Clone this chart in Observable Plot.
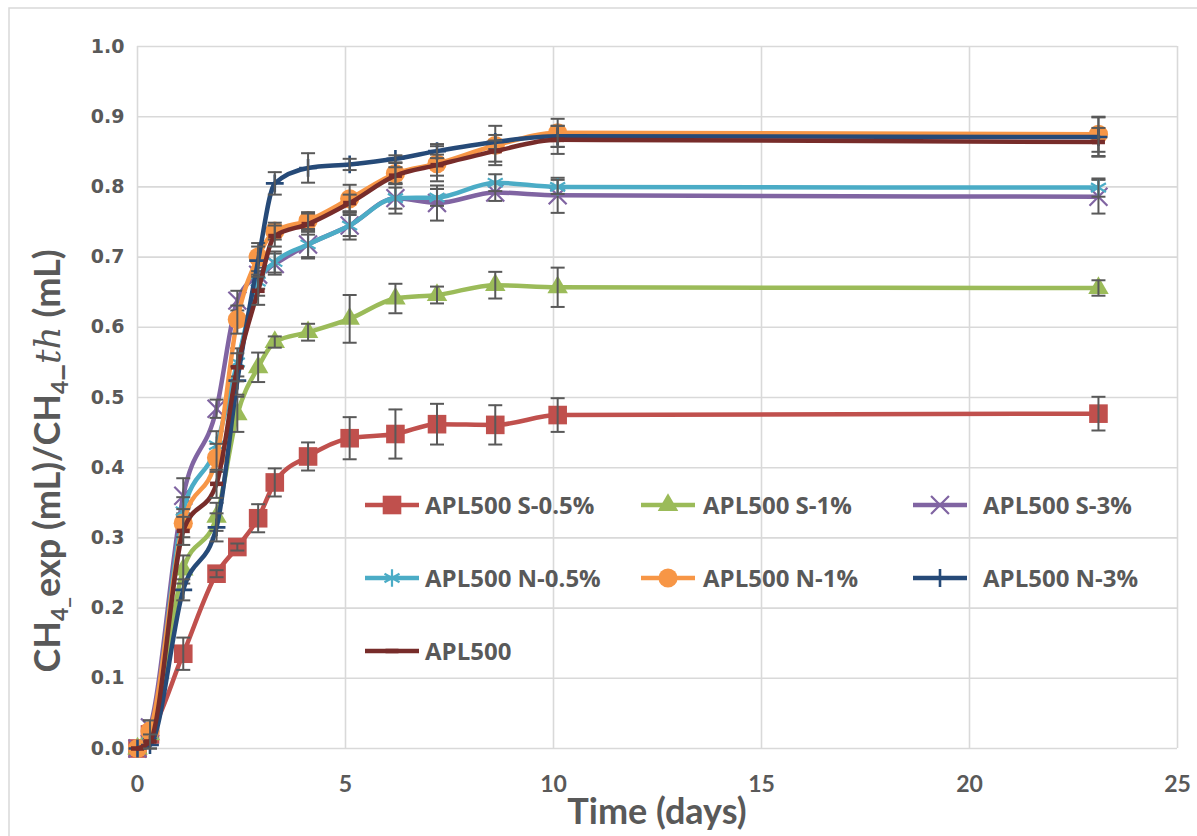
<!DOCTYPE html>
<html><head><meta charset="utf-8">
<script src="https://cdn.jsdelivr.net/npm/d3@7"></script>
<script src="https://cdn.jsdelivr.net/npm/@observablehq/plot@0.6"></script>
<style>
html,body{margin:0;padding:0;background:#fff;}
#chart{position:relative;width:1197px;height:836px;overflow:hidden;}
</style></head><body><div id="chart"></div>
<script>
// ---- data ----
const times = [0, 0.3, 1.1, 1.9, 2.4, 2.9, 3.3, 4.1, 5.1, 6.2, 7.2, 8.6, 10.1, 23.1];
const seriesNames = ["APL500 S-0.5%", "APL500 S-1%", "APL500 S-3%", "APL500 N-0.5%", "APL500 N-1%", "APL500 N-3%", "APL500"];
const valS05 = [0, 0.020, 0.135, 0.249, 0.287, 0.328, 0.379, 0.416, 0.442, 0.448, 0.462, 0.461, 0.475, 0.477];
const valS1  = [0, 0.020, 0.255, 0.330, 0.476, 0.543, 0.579, 0.593, 0.612, 0.641, 0.646, 0.660, 0.657, 0.656];
const valS3  = [0, 0.030, 0.360, 0.484, 0.638, 0.675, 0.690, 0.718, 0.745, 0.784, 0.777, 0.792, 0.788, 0.786];
const valN05 = [0, 0.020, 0.338, 0.432, 0.550, 0.665, 0.693, 0.718, 0.745, 0.784, 0.785, 0.806, 0.800, 0.799];
const valN1  = [0, 0.025, 0.321, 0.414, 0.611, 0.700, 0.737, 0.752, 0.783, 0.819, 0.833, 0.859, 0.877, 0.875];
const valN3  = [0, 0.005, 0.226, 0.315, 0.524, 0.695, 0.805, 0.827, 0.832, 0.840, 0.851, 0.864, 0.872, 0.871];
const valAPL = [0, 0.010, 0.310, 0.377, 0.543, 0.652, 0.730, 0.747, 0.777, 0.816, 0.831, 0.851, 0.867, 0.864];
const errS05 = [0, 0.005, 0.023, 0.005, 0.005, 0.020, 0.020, 0.020, 0.030, 0.035, 0.029, 0.028, 0.024, 0.024];
const errS1  = [0, 0.005, 0.020, 0.020, 0.025, 0.021, 0.008, 0.012, 0.034, 0.021, 0.012, 0.019, 0.028, 0.011];
const errS3  = [0, 0.010, 0.025, 0.013, 0.014, 0.020, 0.015, 0.020, 0.020, 0.022, 0.025, 0.012, 0.025, 0.024];
const errN05 = [0, 0.005, 0.020, 0.020, 0.020, 0.020, 0.015, 0.018, 0.015, 0.015, 0.012, 0.012, 0.010, 0.013];
const errN1  = [0, 0.015, 0.020, 0.020, 0.020, 0.020, 0.012, 0.012, 0.020, 0.015, 0.025, 0.028, 0.020, 0.025];
const errN3  = [0, 0.005, 0.015, 0.020, 0.020, 0.020, 0.016, 0.021, 0.008, 0.005, 0.010, 0.010, 0.015, 0.028];
const errAPL = [0, 0.010, 0.020, 0.020, 0.020, 0.020, 0.015, 0.015, 0.012, 0.012, 0.015, 0.015, 0.020, 0.020];
const xTicks = [0, 5, 10, 15, 20, 25];
const yTicks = [0, 0.1, 0.2, 0.3, 0.4, 0.5, 0.6, 0.7, 0.8, 0.9, 1.0];
const seriesColors = ["#C0504D", "#9BBB59", "#8064A2", "#4BACC6", "#F79646", "#264A78", "#772C2A"];

// ---- symbols ----
const dashSymbol = {draw(ctx, size){ const r = Math.sqrt(size/Math.PI); ctx.moveTo(-r,-r*0.35); ctx.lineTo(r,-r*0.35); ctx.lineTo(r,r*0.35); ctx.lineTo(-r,r*0.35); ctx.closePath(); }};
const capSymbol = {draw(ctx, size){ const r = Math.sqrt(size/Math.PI); ctx.moveTo(-r,0); ctx.lineTo(r,0); }};
const markerSpecs = [
  {symbol: "square",   d3sym: d3.symbolSquare,   r: 10.5, filled: true},
  {symbol: "triangle", d3sym: d3.symbolTriangle, r: 7.6, filled: true},
  {symbol: "times",    d3sym: d3.symbolTimes,    r: 8.2, filled: false, sw: 2.2},
  {symbol: "asterisk", d3sym: d3.symbolAsterisk, r: 8.2, filled: false, sw: 2.2},
  {symbol: "circle",   d3sym: d3.symbolCircle,   r: 9.6, filled: true},
  {symbol: "plus",     d3sym: d3.symbolPlus,     r: 5.8, filled: false, sw: 2.6},
  {symbol: dashSymbol, d3sym: dashSymbol,        r: 6.5, filled: true}
];

const allValues = [valS05, valS1, valS3, valN05, valN1, valN3, valAPL];
const allErrors = [errS05, errS1, errS3, errN05, errN1, errN3, errAPL];
const data = seriesNames.flatMap((name, i) => times.map((t, j) => ({series: name, idx: i, t, v: allValues[i][j], e: allErrors[i][j]})));

const marks = [
  Plot.gridX({ticks: xTicks, stroke: "#d9d9d9", strokeOpacity: 1, strokeWidth: 1.6}),
  Plot.gridY({ticks: yTicks, stroke: "#d9d9d9", strokeOpacity: 1, strokeWidth: 1.6}),
  Plot.axisY({ticks: yTicks, tickSize: 0, tickPadding: 13, tickFormat: d3.format(".1f"), label: null,
    fontFamily: "DejaVu Sans", fontWeight: "bold", fontSize: 19}),
  Plot.axisX({ticks: xTicks, tickSize: 0, tickPadding: 27, tickFormat: d3.format("d"), label: null,
    fontFamily: "Lato", fontWeight: "bold", fontSize: 23})
];
seriesNames.forEach((name, i) => {
  const sub = data.filter(d => d.idx === i);
  const spec = markerSpecs[i];
  const col = seriesColors[i];
  marks.push(Plot.line(sub, {x: "t", y: "v", stroke: col, strokeWidth: 4.5, curve: "monotone-x"}));
  marks.push(Plot.dot(sub, spec.filled
    ? {x: "t", y: "v", symbol: spec.symbol, r: spec.r, fill: col, stroke: "none"}
    : {x: "t", y: "v", symbol: spec.symbol, r: spec.r, fill: "none", stroke: col, strokeWidth: spec.sw}));
  const eb = sub.filter(d => d.e > 0);
  marks.push(Plot.ruleX(eb, {x: "t", y1: d => d.v - d.e, y2: d => d.v + d.e, stroke: "#595959", strokeWidth: 2}));
  marks.push(Plot.dot(eb, {x: "t", y: d => d.v + d.e, symbol: capSymbol, r: 7, stroke: "#595959", strokeWidth: 2}));
  marks.push(Plot.dot(eb, {x: "t", y: d => d.v - d.e, symbol: capSymbol, r: 7, stroke: "#595959", strokeWidth: 2}));
});

const chart = Plot.plot({
  width: 1197, height: 836,
  marginLeft: 137, marginRight: 20, marginTop: 46, marginBottom: 88,
  x: {domain: [0, 25]},
  y: {domain: [0, 1]},
  style: {background: "#fff", color: "#595959", fontFamily: "Lato"},
  marks
});
document.getElementById("chart").appendChild(chart);

const svg = d3.select(chart);
// outer chart border
svg.insert("rect", ":first-child").attr("x", 9).attr("y", 8).attr("width", 1400).attr("height", 1000)
  .attr("fill", "none").attr("stroke", "#d9d9d9").attr("stroke-width", 1.5);

// x axis title
svg.append("text").attr("x", 657).attr("y", 824).attr("text-anchor", "middle")
  .attr("font-family", "Lato").attr("font-weight", "bold").attr("font-size", 36).attr("fill", "#595959")
  .text("Time (days)");

// y axis title
const yt = svg.append("text").attr("transform", "translate(60,461) rotate(-90)").attr("text-anchor", "middle")
  .attr("font-family", "Lato").attr("font-weight", "bold").attr("font-size", 36).attr("fill", "#595959");
yt.append("tspan").text("CH");
yt.append("tspan").attr("font-size", 23).attr("dy", 8).text("4_");
yt.append("tspan").attr("dy", -8).text("exp (mL)/CH");
yt.append("tspan").attr("font-size", 23).attr("dy", 8).text("4");
yt.append("tspan").attr("dy", -8).text("_");
yt.append("tspan").attr("font-family", "DejaVu Serif").attr("font-style", "italic").attr("font-weight", "normal").text("th");
yt.append("tspan").text(" (mL)");

// legend
const legCenters = [392, 668, 940];
const legTextX = [425, 703, 983];
const legRows = [505, 578, 651];
const lg = svg.append("g");
seriesNames.forEach((name, i) => {
  const row = Math.floor(i / 3), colI = i % 3;
  const cx = legCenters[colI], cy = legRows[row];
  const col = seriesColors[i];
  const spec = markerSpecs[i];
  lg.append("line").attr("x1", cx - 27).attr("x2", cx + 27).attr("y1", cy).attr("y2", cy)
    .attr("stroke", col).attr("stroke-width", 4.5);
  const path = d3.symbol().type(spec.d3sym).size(Math.PI * spec.r * spec.r)();
  const p = lg.append("path").attr("d", path).attr("transform", `translate(${cx},${cy})`);
  if (spec.filled) p.attr("fill", col); else p.attr("fill", "none").attr("stroke", col).attr("stroke-width", spec.sw);
  lg.append("text").attr("x", legTextX[colI]).attr("y", cy).attr("dy", "0.36em").attr("text-anchor", "start")
    .attr("font-family", "Open Sans").attr("font-weight", "bold").attr("font-size", 24).attr("fill", "#595959")
    .text(name);
});
</script></body></html>
